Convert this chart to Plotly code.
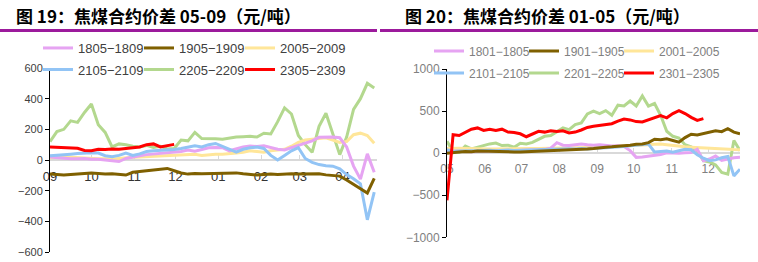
import plotly.graph_objects as go
import pandas as pd

# ---------------- data: left panel (05-09 spread), 5-day sampling from 1 Sep ----------------
left_start = "2022-09-01"
left_step = "5D"
l_1805_1809 = [20, 15, 10, 8, 8, 10, 5, 5, 0, -5, -10, 10, 20, 28, 35, 40, 45, 48, 50, 55,
               65, 58, 68, 80, 82, 80, 60, 75, 85, 92, 88, 92, 80, 70, 65, 80, 90, 110, 125, 148,
               150, 150, 145, 85, -40, -125, 40, -80]
l_1905_1909 = [-92, -95, -98, -95, -90, -88, -85, -88, -92, -90, -95, -98, -80, -75, -70, -62, -58, -55, -70, -85,
               -92, -88, -90, -88, -86, -85, -82, -84, -90, -95, -98, -95, -92, -95, -92, -90, -92, -90, -92, -90,
               -97, -100, -105, -130, -160, -190, -215, -120]
l_2005_2009 = [15, 18, 20, 18, 15, 12, 10, 8, 8, 5, 10, 15, 18, 20, 22, 25, 28, 30, 30, 32,
               35, 38, 30, 35, 38, 38, 40, 45, 50, 60, 55, 50, 60, 65, 70, 90, 115, 130, 135, 140,
               145, 130, 115, 120, 165, 175, 160, 110]
l_2105_2109 = [28, 30, 35, 38, 42, 45, 48, 45, 28, 22, 30, 45, 30, 40, 55, 60, 62, 65, 68, 75,
               82, 92, 85, 100, 108, 90, 70, 52, 70, 80, 84, 75, 30, 0, 30, 60, 80, 10, -15, -30,
               -37, -40, -58, -95, -122, -155, -390, -210]
l_2205_2209 = [120, 185, 200, 255, 245, 310, 365, 230, 180, 85, 105, 100, 90, 85, 95, 82, 90, 72, 75, 130,
               125, 180, 140, 140, 138, 135, 145, 150, 152, 155, 150, 175, 170, 250, 340, 300, 160, 100, 50, 220,
               305, 170, 35, 150, 330, 400, 500, 470]
l_2305_2309 = [85, 82, 80, 80, 76, 62, 60, 70, 68, 72, 70, 75, 78, 85, 100, 105, 85, 95, 102]

left_names = ["1805−1809", "1905−1909", "2005−2009", "2105−2109", "2205−2209", "2305−2309"]
left_series = [l_1805_1809, l_1905_1909, l_2005_2009, l_2105_2109, l_2205_2209, l_2305_2309]

# ---------------- data: right panel (01-05 spread), 5-day sampling from 1 May ----------------
right_start = "2022-05-01"
right_step = "5D"
r_1801_1805 = [30, 25, 20, 15, 18, 20, 22, 25, 20, 22, 25, 28, 30, 30, 35, 40, 45, 60, 125, 95,
               90, 100, 110, 100, 95, 100, 90, 85, 88, 80, 30, -50, -45, -35, -30, -15, 5, 0, 0, 5,
               8, 45, -90, -70, -35, -85, -70, -55, -50]
r_1901_1905 = [0, 10, 15, 20, 18, 25, 22, 20, 18, 15, 12, 15, 15, 18, 20, 22, 25, 25, 28, 30,
               35, 40, 45, 50, 55, 65, 70, 75, 80, 90, 95, 105, 110, 125, 165, 160, 170, 150, 130, 185,
               225, 215, 230, 245, 265, 255, 290, 250, 230]
r_2001_2005 = [55, 60, 58, 55, 52, 50, 50, 48, 50, 52, 50, 52, 50, 52, 55, 55, 58, 60, 62, 60,
               62, 65, 65, 68, 68, 70, 72, 75, 78, 80, 85, 90, 95, 100, 105, 108, 100, 90, 85, 75,
               70, 65, 60, 55, 50, 48, 45, 42, 40]
r_2101_2105 = [40, 20, 25, 30, 30, 28, 32, 35, 30, 35, 38, 32, 35, 38, 40, 42, 42, 45, 48, 50,
               52, 50, 55, 48, 50, 60, 65, 68, 75, 80, 88, 95, 100, 108, 15, 20, 25, 10, 30, 45,
               40, -20, -60, -90, -80, -55, -40, -270, -190]
r_2201_2205 = [140, 20, 10, 85, 50, 70, 85, 110, 120, 90, 95, 70, 118, 110, 128, 160, 200, 210, 255, 300,
               280, 340, 360, 465, 500, 470, 505, 450, 570, 560, 620, 560, 680, 560, 590, 450, 260, 200, 180, 100,
               75, 30, -90, -105, -140, -230, -250, 150, 30]
r_2301_2305 = [-560, 220, 210, 250, 285, 300, 270, 285, 270, 285, 250, 245, 230, 195, 225, 260, 250, 265, 258, 265,
               240, 250, 275, 305, 320, 330, 340, 350, 380, 405, 395, 375, 370, 395, 415, 445, 420, 470, 505, 470,
               425, 390, 410]

right_names = ["1801−1805", "1901−1905", "2001−2005", "2101−2105", "2201−2205", "2301−2305"]
right_series = [r_1801_1805, r_1901_1905, r_2001_2005, r_2101_2105, r_2201_2205, r_2301_2305]

colors = ["#E6A4F2", "#7F6000", "#FFE699", "#92C4F5", "#B3D88E", "#FF0000"]

left_dates = pd.date_range(left_start, periods=max(len(s) for s in left_series), freq=left_step)
right_dates = pd.date_range(right_start, periods=max(len(s) for s in right_series), freq=right_step)

W, H = 758, 262
fig = go.Figure()

draw_order = [4, 2, 0, 3, 1, 5]  # green/yellow underneath, red on top
for k in draw_order:
    s = left_series[k]
    fig.add_trace(go.Scatter(
        x=left_dates[:len(s)], y=s, mode="lines", name=left_names[k],
        line=dict(color=colors[k], width=3), xaxis="x", yaxis="y",
        legend="legend" if k < 3 else "legend2", legendrank=k,
        legendwidth=80 if k in (2, 5) else None))
for k in draw_order:
    s = right_series[k]
    fig.add_trace(go.Scatter(
        x=right_dates[:len(s)], y=s, mode="lines", name=right_names[k],
        line=dict(color=colors[k], width=3), xaxis="x2", yaxis="y2",
        legend="legend3" if k < 3 else "legend4", legendrank=k,
        legendwidth=75 if k in (2, 5) else None))

ly0, ly1 = 1 - 252 / H, 1 - 68 / H
ry0, ry1 = 1 - 237.3 / H, 1 - 69 / H
tick_font_l = dict(family="Arial", size=11, color="#404040")
tick_font_r = dict(family="Arial", size=12, color="#808080")

common_x = dict(type="date", tickformat="%m", dtick="M1", showgrid=False, showline=True,
                linecolor="#D9D9D9", linewidth=1.5, ticks="inside", ticklen=4, tickcolor="#D9D9D9",
                layer="below traces", ticklabelstandoff=5, zeroline=False, automargin=False,
                anchor="free")
common_y = dict(showgrid=False, zeroline=False, showline=True, linecolor="black", linewidth=1,
                ticks="outside", ticklen=4, tickcolor="black", automargin=False)

fig.update_layout(
    width=W, height=H, margin=dict(l=0, r=0, t=0, b=0, autoexpand=False),
    paper_bgcolor="white", plot_bgcolor="rgba(0,0,0,0)", showlegend=True,
    xaxis=dict(common_x, domain=[50 / W, 377 / W], position=(ly0 + ly1) / 2,
               range=["2022-09-01", "2023-04-26"], tick0="2022-09-01",
               tickfont=dict(family="Arial", size=13, color="#333333")),
    yaxis=dict(common_y, domain=[ly0, ly1], anchor="x", range=[-600, 600], dtick=200,
               tickfont=tick_font_l),
    xaxis2=dict(common_x, domain=[447 / W, 740 / W], position=(ry0 + ry1) / 2,
                range=["2022-05-01", "2022-12-27"], tick0="2022-05-01", tickfont=tick_font_r),
    yaxis2=dict(common_y, domain=[ry0, ry1], anchor="x2", range=[-1000, 1000], dtick=500,
                tickfont=tick_font_r),
    legend=dict(orientation="h", x=38 / W, y=1 - 48 / H, xanchor="left", yanchor="middle",
                entrywidth=56, entrywidthmode="pixels", bgcolor="rgba(0,0,0,0)",
                font=dict(family="Arial", size=13, color="#404040"), traceorder="normal"),
    legend2=dict(orientation="h", x=38 / W, y=1 - 69.5 / H, xanchor="left", yanchor="middle",
                 entrywidth=56, entrywidthmode="pixels", bgcolor="rgba(0,0,0,0)",
                 font=dict(family="Arial", size=13, color="#404040"), traceorder="normal"),
    legend3=dict(orientation="h", x=429 / W, y=1 - 51 / H, xanchor="left", yanchor="middle",
                 entrywidth=50, entrywidthmode="pixels", bgcolor="rgba(0,0,0,0)",
                 font=dict(family="Arial", size=12, color="#808080"), traceorder="normal"),
    legend4=dict(orientation="h", x=429 / W, y=1 - 73 / H, xanchor="left", yanchor="middle",
                 entrywidth=50, entrywidthmode="pixels", bgcolor="rgba(0,0,0,0)",
                 font=dict(family="Arial", size=12, color="#808080"), traceorder="normal"),
)

title_font = dict(family="Noto Sans CJK SC", size=17, color="black", weight=700)
fig.add_annotation(text="图 19：焦煤合约价差 05-09（元/吨）", xref="paper", yref="paper",
                   x=14 / W, y=1 - 15 / H, xanchor="left", yanchor="middle", showarrow=False,
                   font=title_font)
fig.add_annotation(text="图 20：焦煤合约价差 01-05（元/吨）", xref="paper", yref="paper",
                   x=403 / W, y=1 - 15 / H, xanchor="left", yanchor="middle", showarrow=False,
                   font=title_font)
rule_y = 1 - 30.5 / H
fig.add_shape(type="line", xref="paper", yref="paper", x0=0, x1=377 / W, y0=rule_y, y1=rule_y,
              line=dict(color="#9C1A9C", width=3))
fig.add_shape(type="line", xref="paper", yref="paper", x0=380 / W, x1=1, y0=rule_y, y1=rule_y,
              line=dict(color="#9C1A9C", width=3))

fig.write_html("out.html")
